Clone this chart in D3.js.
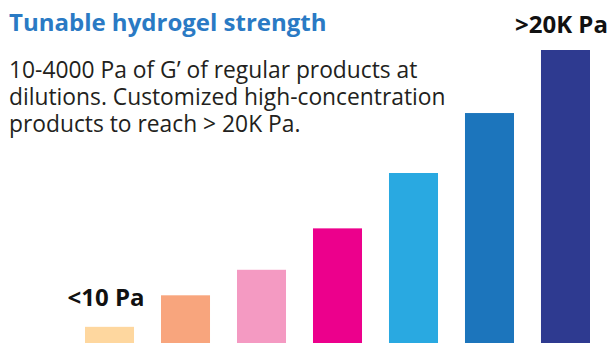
<!DOCTYPE html>
<html>
<head>
<meta charset="utf-8">
<script src="https://cdn.jsdelivr.net/npm/d3@7"></script>
<style>
  html, body { margin: 0; padding: 0; background: #fff; }
  svg { display: block; }
</style>
</head>
<body>
<svg id="chart" width="616" height="343"></svg>
<script>
// Storage modulus G' (Pa) per product grade, weakest to strongest
const grades = ["G1", "G2", "G3", "G4", "G5", "G6", "G7"];
const modulusPa = [8, 20, 42, 140, 700, 4000, 25000];
const barColors = ["#fed79f", "#f8a57d", "#f49ac2", "#ec008c", "#29a9e1", "#1c75bc", "#2e3a90"];
const endLabels = ["<10 Pa", ">20K Pa"];

const title = "Tunable hydrogel strength";
const bodyLines = [
  "10-4000 Pa of G\u2019 of regular products at",
  "dilutions. Customized high-concentration",
  "products to reach > 20K Pa."
];

const svg = d3.select("#chart");
const W = 616, H = 343;
const font = "'Open Sans', sans-serif";

const x = d3.scaleBand()
  .domain(grades)
  .range([85, 590])
  .paddingInner(0.355)
  .paddingOuter(0);

const y = d3.scaleLog()
  .domain([5, 25000])
  .range([H, 50]);

svg.append("g")
  .selectAll("rect")
  .data(grades)
  .join("rect")
  .attr("x", d => x(d))
  .attr("width", x.bandwidth())
  .attr("y", (d, i) => y(modulusPa[i]))
  .attr("height", (d, i) => H - y(modulusPa[i]))
  .attr("fill", (d, i) => barColors[i]);

// Labels above the first and last bars
const first = 0, last = grades.length - 1;
svg.append("text")
  .attr("x", x(grades[first]) + x.bandwidth() / 2 - 3.5)
  .attr("y", y(modulusPa[first]) - 21)
  .attr("text-anchor", "middle")
  .attr("font-family", font)
  .attr("font-weight", 700)
  .attr("font-size", 24)
  .attr("fill", "#111")
  .text(endLabels[0]);

svg.append("text")
  .attr("x", x(grades[last]) + x.bandwidth() / 2 - 4)
  .attr("y", y(modulusPa[last]) - 17)
  .attr("text-anchor", "middle")
  .attr("font-family", font)
  .attr("font-weight", 700)
  .attr("font-size", 24)
  .attr("fill", "#111")
  .text(endLabels[1]);

// Heading and description
svg.append("text")
  .attr("x", 9)
  .attr("y", 31)
  .attr("font-family", font)
  .attr("font-weight", 700)
  .attr("font-size", 24)
  .attr("fill", "#2a7ac4")
  .text(title);

svg.append("g")
  .selectAll("text")
  .data(bodyLines)
  .join("text")
  .attr("x", 9)
  .attr("y", (d, i) => 78 + i * 26.8)
  .attr("font-family", font)
  .attr("font-size", 22.8)
  .attr("fill", "#231f20")
  .text(d => d);
</script>
</body>
</html>
